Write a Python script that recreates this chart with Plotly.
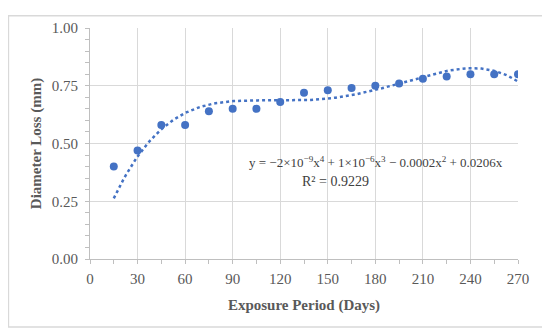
import numpy as np
import plotly.graph_objects as go

days = [15, 30, 45, 60, 75, 90, 105, 120, 135, 150, 165, 180, 195, 210, 225, 240, 255, 270]
loss = [0.40, 0.47, 0.58, 0.58, 0.64, 0.65, 0.65, 0.68, 0.72, 0.73, 0.74, 0.75, 0.76, 0.78, 0.79, 0.80, 0.80, 0.80]
x_ticks = [0, 30, 60, 90, 120, 150, 180, 210, 240, 270]
y_ticks = [0.00, 0.25, 0.50, 0.75, 1.00]
eq_text = "y = −2×10<sup>−9</sup>x<sup>4</sup> + 1×10<sup>−6</sup>x<sup>3</sup> − 0.0002x<sup>2</sup> + 0.0206x"
r2_text = "R² = 0.9229"

# 4th-order polynomial trendline with intercept fixed at 0 (fitted to the data)
xd = np.array(days, dtype=float)
yd = np.array(loss, dtype=float)
A = np.vstack([xd ** 4, xd ** 3, xd ** 2, xd]).T
coef, *_ = np.linalg.lstsq(A, yd, rcond=None)
xt = np.linspace(min(days), max(days), 200)
yt = coef[0] * xt ** 4 + coef[1] * xt ** 3 + coef[2] * xt ** 2 + coef[3] * xt

BLUE = "#4472C4"
GRID = "#d9d9d9"
FONT = "Liberation Serif"

fig = go.Figure()
fig.add_trace(go.Scatter(x=xt, y=yt, mode="lines",
                         line=dict(color=BLUE, width=2.5, dash="dot"),
                         showlegend=False, hoverinfo="skip"))
fig.add_trace(go.Scatter(x=days, y=loss, mode="markers",
                         marker=dict(color=BLUE, size=8),
                         showlegend=False))

fig.update_layout(
    width=542, height=325,
    margin=dict(l=82, r=32, t=13, b=74),
    paper_bgcolor="white", plot_bgcolor="white",
    font=dict(family=FONT, color="#595959", size=15),
    xaxis=dict(range=[0, 270], tickvals=x_ticks, ticktext=[str(v) for v in x_ticks],
               showgrid=True, gridcolor=GRID, gridwidth=1,
               showline=True, linecolor="#bfbfbf", linewidth=1,
               ticks="outside", ticklen=4, tickcolor="#bfbfbf", ticklabelstandoff=2,
               minor=dict(ticks="outside", dtick=15, ticklen=4, tickcolor="#bfbfbf", showgrid=False),
               zeroline=False,
               title=dict(text="<b>Exposure Period (Days)</b>", font=dict(size=15, color="#595959", family=FONT),
                          standoff=13)),
    yaxis=dict(range=[0, 1], tickvals=y_ticks, ticktext=["%.2f" % v for v in y_ticks],
               showgrid=True, gridcolor=GRID, gridwidth=1,
               showline=True, linecolor="#bfbfbf", linewidth=1,
               ticks="outside", ticklen=4, tickcolor="#bfbfbf", ticklabelstandoff=4,
               minor=dict(ticks="outside", dtick=0.05, ticklen=4, tickcolor="#bfbfbf", showgrid=False),
               zeroline=False,
               title=dict(text="<b>Diameter Loss (mm)</b>", font=dict(size=15, color="#595959", family=FONT),
                          standoff=6)),
    annotations=[
        dict(x=180.3, y=0.421, xref="x", yref="y", text=eq_text, showarrow=False,
             font=dict(size=13, color="#404040", family=FONT), xanchor="center", yanchor="middle"),
        dict(x=155, y=0.337, xref="x", yref="y", text=r2_text, showarrow=False,
             font=dict(size=14, color="#404040", family=FONT), xanchor="center", yanchor="middle"),
    ],
    shapes=[dict(type="rect", xref="paper", yref="paper",
                 x0=-0.1906, x1=1.0655, y0=-0.2947, y1=1.0526,
                 line=dict(color=GRID, width=1.5), layer="below")],
)

fig.write_html("out.html")
